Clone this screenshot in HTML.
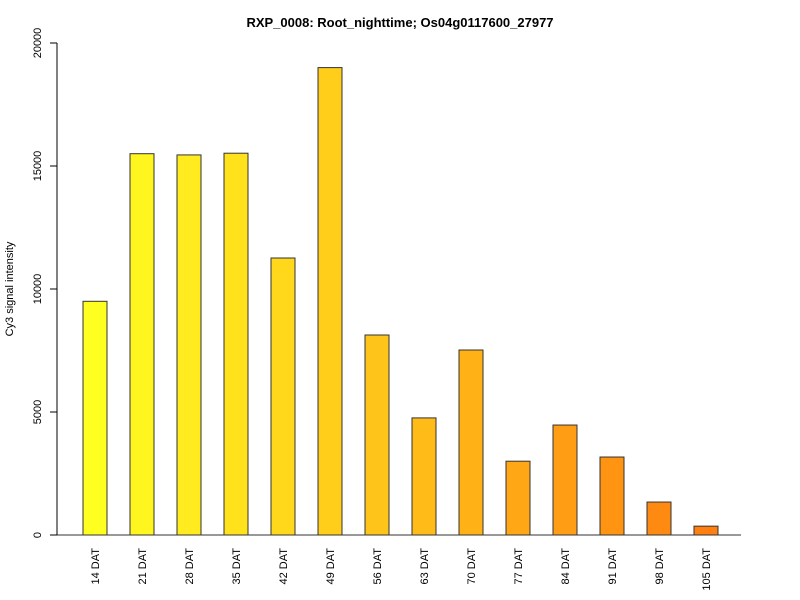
<!DOCTYPE html>
<html><head><meta charset="utf-8"><style>body{margin:0;background:#fff}svg{display:block;font-family:"Liberation Sans",Arial,sans-serif}</style></head>
<body>
<svg id="chart" width="800" height="600" xmlns="http://www.w3.org/2000/svg">
<text x="400" y="27" text-anchor="middle" font-size="13" font-weight="bold">RXP_0008: Root_nighttime; Os04g0117600_27977</text>
<text transform="translate(13,289) rotate(-90)" text-anchor="middle" font-size="11">Cy3 signal intensity</text>
<g id="bars"></g><g id="axes"></g>
</svg>
<script>
const categories=["14 DAT","21 DAT","28 DAT","35 DAT","42 DAT","49 DAT","56 DAT","63 DAT","70 DAT","77 DAT","84 DAT","91 DAT","98 DAT","105 DAT"];
const values=[9500,15500,15450,15520,11260,19000,8130,4760,7520,3000,4470,3170,1340,360];
const yTicks=[0,5000,10000,15000,20000];
const ns="http://www.w3.org/2000/svg";
const y0=535,yTop=43,yMax=20000;
function yScale(v){return y0-(v/yMax)*(y0-yTop);}
function xCenter(i){return 95+i*47;}
const bars=document.getElementById('bars'),axes=document.getElementById('axes');
function mk(t,a,p){const e=document.createElementNS(ns,t);for(const k in a)e.setAttribute(k,a[k]);p.appendChild(e);return e;}
const c0=[255,255,32],c1=[255,128,16];
categories.forEach((c,i)=>{
  const f=i/(categories.length-1);
  const col=`rgb(${c0.map((v,j)=>Math.round(v+(c1[j]-v)*f)).join(',')})`;
  const r=mk('rect',{x:xCenter(i)-12,y:yScale(values[i]),width:24,height:y0-yScale(values[i]),fill:col,stroke:'#333','stroke-width':1},bars);
  
  
  const t=mk('text',{transform:`translate(${xCenter(i)+4},${548}) rotate(-90)`,'text-anchor':'end','font-size':11},axes);
  t.textContent=c;
  
  
});
const bl=mk('line',{x1:50,x2:741,y1:y0,y2:y0,stroke:'#333'},axes);


const ya=mk('line',{x1:57,x2:57,y1:yScale(0),y2:yScale(20000),stroke:'#000'},axes);


yTicks.forEach(v=>{
  const tk=mk('line',{x1:50,x2:57,y1:yScale(v),y2:yScale(v),stroke:'#000'},axes);
  
  
  const t=mk('text',{transform:`translate(41,${yScale(v)}) rotate(-90)`,'text-anchor':'middle','font-size':11},axes);
  t.textContent=v;
  
  
});
</script>
</body></html>
